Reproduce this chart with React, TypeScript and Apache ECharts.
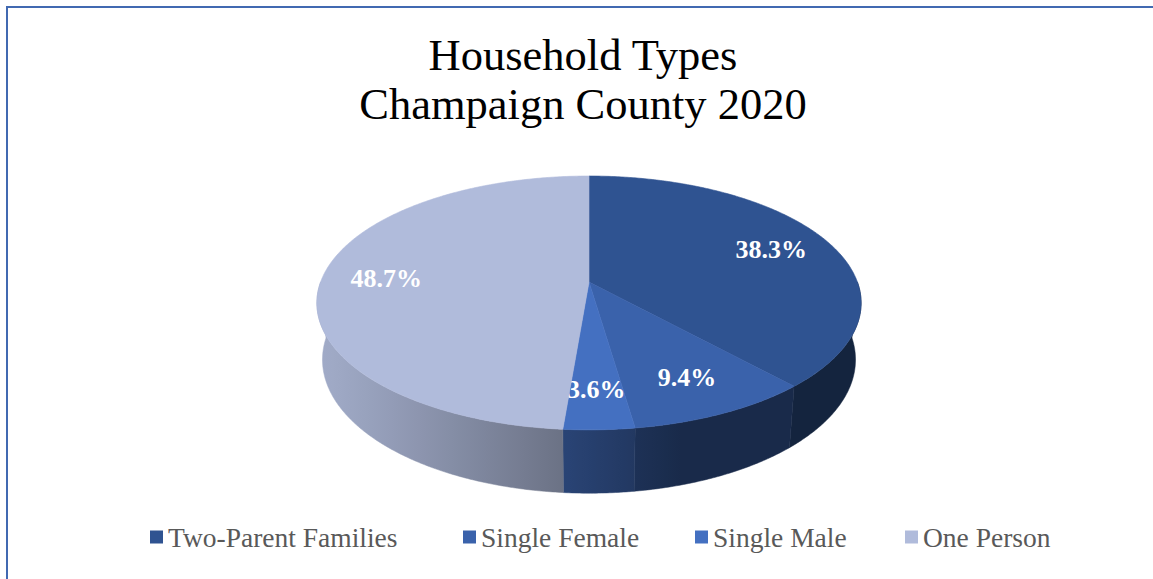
import React, { useEffect, useRef } from "react";
import * as echarts from "echarts";

const categories = ["Two-Parent Families", "Single Female", "Single Male", "One Person"];
const values = [38.3, 9.4, 3.6, 48.7];
const colors = ["#2F5391", "#3A62AB", "#4470C1", "#B0BBDB"];
const titleLines = ["Household Types", "Champaign County 2020"];
const legendLefts = [150, 463, 695, 905];

// 3D projection parameters (layout only)
const CX = 589;
const CY = 282;
const S = 0.46;
const C = 0.888;
const D = 5.38;
const F = 1444;
const H = 0.24;
const LABEL_R = 0.76;
const SERIF = "'Liberation Serif', 'DejaVu Serif', serif";

function proj(X: number, Y: number, Z: number): number[] {
  const depth = D + Y * C - Z * S;
  return [CX + (F * X) / depth, CY - (F * (Y * S + Z * C)) / depth];
}
function rim(t: number, z: number): number[] {
  return proj(Math.sin(t), Math.cos(t), z);
}
function shade(hex: string, k: number): string {
  const n = parseInt(hex.slice(1), 16);
  const r = Math.min(255, Math.round(((n >> 16) & 255) * k));
  const g = Math.min(255, Math.round(((n >> 8) & 255) * k));
  const b = Math.min(255, Math.round((n & 255) * k));
  return `rgb(${r},${g},${b})`;
}
function sideFactor(t: number): number {
  return 0.43 + Math.max(0, -0.46 * Math.sin(t) - 0.141 * Math.cos(t));
}

const total = values.reduce((a, b) => a + b, 0);
const starts: number[] = [];
{
  let acc = 0;
  values.forEach((v) => {
    starts.push(acc / total);
    acc += v;
  });
}

function renderItem(params: any, api: any) {
  const f0 = api.value(0);
  const f1 = api.value(1);
  const v = api.value(2);
  const color = api.visual("color") as string;
  const a0 = f0 * Math.PI * 2;
  const a1 = f1 * Math.PI * 2;
  const children: any[] = [];

  // side wall (single polygon with horizontal shading gradient)
  const lo = Math.max(a0, Math.PI / 2);
  const hi = Math.min(a1, (Math.PI * 3) / 2);
  if (hi > lo) {
    const n = Math.max(2, Math.ceil((hi - lo) / (Math.PI / 360)));
    const topPts: number[][] = [];
    const botPts: number[][] = [];
    for (let j = 0; j <= n; j++) {
      const t = lo + ((hi - lo) * j) / n;
      topPts.push(rim(t, 0));
      botPts.push(rim(t, -H));
    }
    const pts = topPts.concat(botPts.reverse());
    // gradient from right (lo) to left (hi) in screen space
    const xs = topPts.map((p) => p[0]);
    const xRight = Math.max(...xs);
    const xLeft = Math.min(...xs);
    const span = Math.max(1e-6, xRight - xLeft);
    const stops: any[] = [];
    const ns = 12;
    for (let j = 0; j <= ns; j++) {
      const t = lo + ((hi - lo) * j) / ns;
      const x = rim(t, 0)[0];
      stops.push({ offset: Math.min(1, Math.max(0, (x - xLeft) / span)), color: shade(color, sideFactor(t)) });
    }
    stops.sort((a, b) => a.offset - b.offset);
    const grad = new echarts.graphic.LinearGradient(0, 0, 1, 0, stops);
    (grad as any).global = true;
    (grad as any).x = xLeft;
    (grad as any).x2 = xRight;
    (grad as any).y = 0;
    (grad as any).y2 = 0;
    children.push({
      type: "polygon",
      shape: { points: pts },
      style: { fill: grad, stroke: grad, lineWidth: 0.5 },
    });
  }

  // top face
  const pts: number[][] = [proj(0, 0, 0)];
  const steps = Math.max(2, Math.ceil((a1 - a0) / (Math.PI / 360)));
  for (let j = 0; j <= steps; j++) {
    pts.push(rim(a0 + ((a1 - a0) * j) / steps, 0));
  }
  children.push({
    type: "polygon",
    shape: { points: pts },
    style: { fill: color, stroke: color, lineWidth: 0.6 },
  });

  // label
  const mid = (a0 + a1) / 2;
  const lp = proj(LABEL_R * Math.sin(mid), LABEL_R * Math.cos(mid), 0);
  children.push({
    type: "text",
    x: lp[0],
    y: lp[1],
    style: {
      text: v.toFixed(1) + "%",
      fill: "#ffffff",
      font: `bold 26px ${SERIF}`,
      align: "center",
      verticalAlign: "middle",
    },
  });

  return { type: "group", children };
}

export default function App() {
  const ref = useRef<HTMLDivElement>(null);
  useEffect(() => {
    if (!ref.current) return;
    const chart = echarts.init(ref.current, undefined, { renderer: "svg" });
    chart.setOption({
      animation: false,
      backgroundColor: "#ffffff",
      legend: categories.map((name, i) => ({
        data: [name],
        left: legendLefts[i],
        top: 523,
        padding: 0,
        icon: "rect",
        itemWidth: 13,
        itemHeight: 13,
        textStyle: {
          fontFamily: SERIF,
          fontSize: 27.5,
          color: "#595959",
        },
      })),
      graphic: [
        {
          type: "rect",
          z: -10,
          shape: { x: 7, y: 7, width: 1400, height: 800 },
          style: { fill: "none", stroke: "#4169B1", lineWidth: 2 },
        },
        {
          type: "text",
          x: 583,
          y: 55,
          style: {
            text: titleLines[0],
            font: `44.5px ${SERIF}`,
            fill: "#000000",
            align: "center",
            verticalAlign: "middle",
          },
        },
        {
          type: "text",
          x: 583,
          y: 104,
          style: {
            text: titleLines[1],
            font: `44.5px ${SERIF}`,
            fill: "#000000",
            align: "center",
            verticalAlign: "middle",
          },
        },
      ],
      series: categories.map((name, i) => ({
        type: "custom",
        name,
        coordinateSystem: "none",
        itemStyle: { color: colors[i] },
        data: [[starts[i], starts[i] + values[i] / total, values[i]]],
        renderItem,
      })),
    });
    return () => chart.dispose();
  }, []);
  return (
    <div
      ref={ref}
      style={{ position: "fixed", left: 0, top: 0, width: 1153, height: 579 }}
    />
  );
}
